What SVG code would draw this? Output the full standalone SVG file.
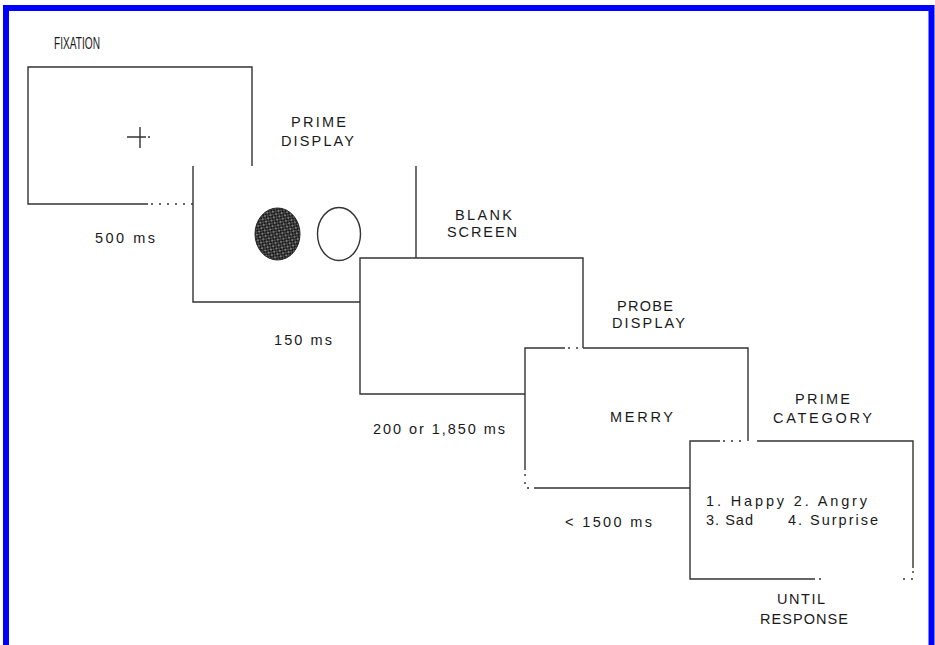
<svg xmlns="http://www.w3.org/2000/svg" width="935" height="645" viewBox="0 0 935 645">
  <defs>
    <pattern id="speckle" width="4" height="4" patternUnits="userSpaceOnUse" patternTransform="rotate(35)">
      <rect width="4" height="4" fill="#1c1c1c"/>
      <circle cx="1" cy="1" r="0.75" fill="#ffffff"/>
      <circle cx="3" cy="3" r="0.6" fill="#e8e8e8"/>
    </pattern>
  </defs>
  <style>
    .ln { fill: none; stroke: #333333; stroke-width: 1.4; }
    .dot { fill: none; stroke: #333333; stroke-width: 1.4; stroke-dasharray: 2 6; }
    .lbl { font-family: "Liberation Sans", Arial, sans-serif; font-size: 14.5px; fill: #1a1a1a; }
    .big { font-size: 16px; }
    .frame { fill: none; stroke: #0000ff; stroke-width: 6; }
  </style>
  <rect width="935" height="645" fill="#ffffff"/>
  <path class="frame" d="M6,648 V8 H931.5 V648"/>

  <g id="fixation">
    <path class="ln" d="M252,166 V67 H28 V204 H148"/>
    <path class="dot" d="M151,204 H193"/>
    <path class="ln" d="M127,137 H146 M140,127 V148"/>
    <path class="dot" d="M148,137 H155"/>
    <text class="lbl big" x="54" y="49" textLength="46" lengthAdjust="spacingAndGlyphs">FIXATION</text>
    <text class="lbl" x="95" y="243" textLength="60" lengthAdjust="spacing">500 ms</text>
  </g>

  <g id="prime-display">
    <path class="ln" d="M193,166 V302 H360"/>
    <path class="ln" d="M416,166 V258"/>
    <ellipse cx="277.5" cy="234" rx="22.5" ry="26" fill="url(#speckle)" stroke="#222222" stroke-width="1"/>
    <ellipse cx="339" cy="234" rx="21.5" ry="26.5" class="ln"/>
    <text class="lbl" x="291" y="127" textLength="55" lengthAdjust="spacing">PRIME</text>
    <text class="lbl" x="281" y="146" textLength="73" lengthAdjust="spacing">DISPLAY</text>
    <text class="lbl" x="274" y="345" textLength="58" lengthAdjust="spacing">150 ms</text>
  </g>

  <g id="blank-screen">
    <path class="ln" d="M583,348 V258 H360 V394 H525"/>
    <text class="lbl" x="455" y="220" textLength="57" lengthAdjust="spacing">BLANK</text>
    <text class="lbl" x="447" y="237" textLength="70" lengthAdjust="spacing">SCREEN</text>
    <text class="lbl" x="373" y="434" textLength="132" lengthAdjust="spacing">200 or 1,850 ms</text>
  </g>

  <g id="probe-display">
    <path class="ln" d="M565,348 H525 V470"/>
    <path class="dot" d="M525,474 V488 H531"/>
    <path class="ln" d="M534,488 H690"/>
    <path class="dot" d="M568,348 H582"/>
    <path class="ln" d="M583,348 H748 V441"/>
    <text class="lbl" x="617" y="311" textLength="56" lengthAdjust="spacing">PROBE</text>
    <text class="lbl" x="612" y="328" textLength="73" lengthAdjust="spacing">DISPLAY</text>
    <text class="lbl" x="610" y="422" textLength="63" lengthAdjust="spacing">MERRY</text>
    <text class="lbl" x="565" y="527" textLength="87" lengthAdjust="spacing">&lt; 1500 ms</text>
  </g>

  <g id="prime-category">
    <path class="ln" d="M720,441 H690 V579 H815"/>
    <path class="dot" d="M723,441 H742"/>
    <path class="ln" d="M757,441 H913 V568"/>
    <path class="dot" d="M913,571 V579 H903"/>
    <path class="dot" d="M819,579 H825"/>
    <text class="lbl" x="795" y="404" textLength="55" lengthAdjust="spacing">PRIME</text>
    <text class="lbl" x="773" y="423" textLength="99" lengthAdjust="spacing">CATEGORY</text>
    <text class="lbl" x="706" y="506" textLength="161" lengthAdjust="spacing">1. Happy 2. Angry</text>
    <text class="lbl" y="525"><tspan x="706" textLength="47" lengthAdjust="spacing">3. Sad</tspan><tspan x="788" textLength="90" lengthAdjust="spacing">4. Surprise</tspan></text>
    <text class="lbl" x="777" y="604" textLength="48" lengthAdjust="spacing">UNTIL</text>
    <text class="lbl" x="760" y="624" textLength="88" lengthAdjust="spacing">RESPONSE</text>
  </g>

  <g id="connectors"></g>
</svg>
